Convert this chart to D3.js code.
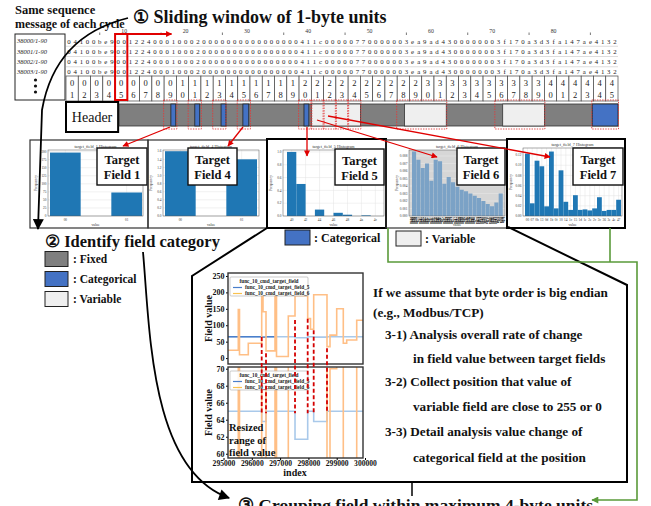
<!DOCTYPE html>
<html>
<head>
<meta charset="utf-8">
<script src="https://cdn.jsdelivr.net/npm/d3@7"></script>
<style>
  body { margin: 0; background: #fff; }
  svg { display: block; }
  text { font-family: "Liberation Serif", "Times New Roman", serif; }
</style>
</head>
<body>
<svg id="fig" width="651" height="506"></svg>
<script>
// ---- data ----
const rowLabels = ["38000/1-90", "38001/1-90", "38002/1-90", "38003/1-90"];
const hexSeq = "04100be900122400010002" + "0000000000000000" + "411c" + "00000" + "77" +
  "000000" + "3ea9ad43" + "0000000" + "3f170a3d3fa147ae4132";
const rulerMarks = [10, 20, 30, 40, 50, 60, 70, 80];
const rulerDots = [5, 15, 25, 35, 45, 55, 65, 75, 85];
const byteCount = 45;
const windowByte = 5;

// field map along the byte axis (byte units)
const headerBytes = [0, 4.25];
const catBlocks = [[8.55, 8.95], [10.5, 10.9], [12.64, 13.04], [14.42, 14.9], [19.4, 19.8], [42.9, 45]];
const varBlocks = [[20, 24], [27.6, 31], [35.6, 39]];
const candidateBoxes = [[8, 9], [10, 11], [12, 13], [14, 15], [19, 20], [20, 21], [21, 22], [22, 23], [23, 24], [27, 31], [35, 39], [42.9, 45]];

// histograms
const hist1 = [197, 0, 73];
const hist4 = [1.6, 0, 1.4];
const hist5 = [1.0, 0.5, 0, 0.1, 0, 0.05, 0.02, 0, 0.01, 0];
const hist6 = [0.0086, 0.0075, 0.0064, 0.0070, 0.0047, 0.0075, 0.0073, 0.0043, 0.0052, 0.0045, 0.0039,
  0.0035, 0.0033, 0.0030, 0.0027, 0.0024, 0.0020, 0.0016, 0.0013, 0.0018, 0.0030];
const hist7 = [0.123, 0.025, 0.109, 0.098, 0.019, 0.127, 0.015, 0.090, 0.028, 0.012, 0.041,
  0.012, 0.013, 0.011, 0.015, 0.037, 0.010, 0.012, 0.012, 0.032];
const hist1Ticks = ["00", "01"];
const hist4Ticks = ["00", "01"];
const hist5Ticks = ["40", "42", "44", "46", "48", "4a", "4c"];
const hist6Ticks = d3.range(0, 256, 6).map(v => v.toString(16).padStart(2, "0") + "9a");
const hist7Ticks = ["00", "07", "0b", "13", "0d", "1b", "0f", "10", "14", "1c", "15", "1d", "1e", "2e", "2c", "3c", "36", "3e", "4e", "47"];

// line charts (index, field value) - step series
const idx6 = [295159, 295523, 295565, 295876, 296350, 296396, 296502, 296820, 296873, 297290, 297527,
  297975, 298074, 298187, 298657, 298763, 299000, 299233, 299353, 299707, 299929];
const val6 = [24, 148, 10, 45, 189, 141, 22, 190, 5, 128, 190, 120, 88, 193, 35, 70, 150, 45, 55, 115, 115];
const idx5 = [295159, 296350, 296502, 297527, 297975, 298187, 298657, 299929];
const val5 = [65, 63.8, 65, 61.7, 65, 63.8, 65, 65];
const markIdx = [296350, 296502, 297527, 297975, 298187, 298657];
const markTop = [64, 15, 116, 120, 85, 30];
const idxTicks = [295000, 296000, 297000, 298000, 299000, 300000];
const upperTicks = [0, 50, 100, 150, 200, 250];
const lowerTicks = [60, 62, 64, 66, 68, 70];

const stepsText = [
  ["If we assume that byte order is big endian", 0],
  ["(e.g., Modbus/TCP)", 0],
  ["3-1) Analysis overall rate of change", 1],
  ["in field value between target fields", 2],
  ["3-2) Collect position that value of", 1],
  ["variable field are close to 255 or 0", 2],
  ["3-3) Detail analysis value change of", 1],
  ["categorical field at the position", 2]
];

// ---- drawing ----
const svg = d3.select("#fig");
const GRAY = "#7f7f7f", BLUE = "#4472c4", LIGHT = "#efefef", RED = "#e00000", GREEN = "#5a9a3a";

const defs = svg.append("defs");
function marker(id, color, w, h) {
  defs.append("marker").attr("id", id).attr("viewBox", "0 0 10 10")
    .attr("refX", 9).attr("refY", 5).attr("markerUnits", "userSpaceOnUse")
    .attr("markerWidth", w).attr("markerHeight", h).attr("orient", "auto")
    .append("path").attr("d", "M0,0L10,5L0,10z").attr("fill", color);
}
marker("arBlack", "#000", 12, 11);
marker("arRed", RED, 7, 6);
marker("arGreen", GREEN, 8, 7);

function txt(x, y, s, size, opt = {}) {
  return svg.append("text").attr("x", x).attr("y", y).text(s)
    .attr("font-size", size).attr("font-weight", opt.weight || "bold")
    .attr("text-anchor", opt.anchor || "start")
    .attr("fill", opt.fill || "#111");
}

// titles
txt(15, 14, "Same sequence", 12.5);
txt(15, 28, "message of each cycle", 12);
txt(133, 23, "\u2460 Sliding window of 1-byte units", 18);

// hex rows
const xByte = d3.scaleLinear().domain([0, byteCount]).range([66, 618]);
const charX = i => xByte((i + 0.5) / 2);
const yRow = d3.scaleBand().domain(rowLabels).range([36, 77]);

svg.append("rect").attr("x", 15).attr("y", 34).attr("width", 50).attr("height", 66)
  .attr("fill", "#fff").attr("stroke", "#222").attr("stroke-width", 1);

rowLabels.forEach(r => {
  const cy = yRow(r) + yRow.bandwidth() / 2;
  svg.append("text").attr("x", 17).attr("y", cy + 2.3).text(r)
    .attr("font-family", "Liberation Sans, Arial, sans-serif").attr("font-style", "italic")
    .attr("font-size", 6.5).attr("fill", "#222");
  svg.append("line").attr("x1", 66).attr("x2", 618)
    .attr("y1", yRow(r) + yRow.bandwidth()).attr("y2", yRow(r) + yRow.bandwidth())
    .attr("stroke", "#cfcfcf").attr("stroke-width", 0.7);
  svg.append("g").selectAll("text").data(hexSeq.split("")).join("text")
    .attr("x", (d, i) => charX(i)).attr("y", cy + 2.4)
    .attr("text-anchor", "middle").attr("font-family", "DejaVu Sans, sans-serif")
    .attr("font-size", 6.8).attr("fill", "#222").text(d => d);
});
// vertical dots
[80, 86, 92].forEach(y => svg.append("circle").attr("cx", 35.5).attr("cy", y).attr("r", 1.6).attr("fill", "#111"));

// ruler
svg.append("g").selectAll("text").data(rulerMarks).join("text")
  .attr("x", d => charX(d - 1)).attr("y", 32.5).attr("text-anchor", "middle")
  .attr("font-family", "Liberation Sans, Arial, sans-serif").attr("font-size", 5.8).attr("fill", "#333")
  .text(d => d);
svg.append("g").selectAll("line").data(rulerDots).join("line")
  .attr("x1", d => charX(d)).attr("x2", d => charX(d)).attr("y1", 32.5).attr("y2", 35)
  .attr("stroke", "#555").attr("stroke-width", 0.8);

// byte index grid
const bytes = d3.range(1, byteCount + 1);
const cw = xByte(1) - xByte(0);
const cells = svg.append("g").selectAll("g").data(bytes).join("g")
  .attr("transform", d => `translate(${xByte(d - 1)},76)`);
cells.append("rect").attr("width", cw).attr("height", 25)
  .attr("fill", "#fff").attr("stroke", "#444").attr("stroke-width", 0.7);
cells.append("text").attr("x", cw / 2).attr("y", 10).attr("text-anchor", "middle")
  .attr("font-size", 8.5).attr("fill", "#222").text(d => Math.floor(d / 10));
cells.append("text").attr("x", cw / 2).attr("y", 21.5).attr("text-anchor", "middle")
  .attr("font-size", 8.5).attr("fill", "#222").text(d => d % 10);

// sliding window
svg.append("rect").attr("x", xByte(windowByte - 1)).attr("y", 34)
  .attr("width", cw).attr("height", 66).attr("fill", "none")
  .attr("stroke", RED).attr("stroke-width", 2);
svg.append("line").attr("x1", xByte(windowByte)).attr("y1", 34)
  .attr("x2", xByte(windowByte + 3.6)).attr("y2", 34)
  .attr("stroke", RED).attr("stroke-width", 2).attr("marker-end", "url(#arRed)");

// field bar
svg.append("rect").attr("x", xByte(headerBytes[0])).attr("y", 102)
  .attr("width", xByte(headerBytes[1]) - xByte(headerBytes[0])).attr("height", 30)
  .attr("fill", "#fff").attr("stroke", "#000").attr("stroke-width", 2);
svg.append("text").attr("x", (xByte(headerBytes[0]) + xByte(headerBytes[1])) / 2).attr("y", 121.5)
  .attr("text-anchor", "middle").attr("font-size", 14).attr("fill", "#111").text("Header");
svg.append("rect").attr("x", xByte(headerBytes[1]) + 1).attr("y", 104)
  .attr("width", xByte(byteCount) - xByte(headerBytes[1]) - 1).attr("height", 22)
  .attr("fill", GRAY).attr("stroke", "#333").attr("stroke-width", 0.8);
svg.append("g").selectAll("rect").data(varBlocks).join("rect")
  .attr("x", d => xByte(d[0])).attr("y", 104).attr("width", d => xByte(d[1]) - xByte(d[0])).attr("height", 22)
  .attr("fill", LIGHT).attr("stroke", "#333").attr("stroke-width", 0.8);
svg.append("g").selectAll("rect").data(catBlocks).join("rect")
  .attr("x", d => xByte(d[0])).attr("y", 104).attr("width", d => xByte(d[1]) - xByte(d[0])).attr("height", 22)
  .attr("fill", BLUE).attr("stroke", "#222").attr("stroke-width", 0.8);
svg.append("g").selectAll("rect").data(candidateBoxes).join("rect")
  .attr("x", d => xByte(d[0]) - 0.5).attr("y", 100).attr("width", d => xByte(d[1]) - xByte(d[0]) + 1).attr("height", 29)
  .attr("fill", "none").attr("stroke", "#e23a3a").attr("stroke-width", 0.9).attr("stroke-dasharray", "1.4,1.2");

// histogram panels
const panels = [
  { name: "target_field_1", vals: hist1, ticks: hist1Ticks, box: [30, 140, 118, 88], plot: [48, 150, 95, 66], bars: [50, 142], ymax: 205, yt: d3.range(0, 201, 25), fmt: d => d, field: "Field 1", tbox: [97, 148, 50, 37] },
  { name: "target_field_4", vals: hist4, ticks: hist4Ticks, box: [148, 140, 119, 88], plot: [163, 150, 96, 66], bars: [165, 257], ymax: 1.63, yt: d3.range(0, 1.61, 0.2), fmt: d3.format(".1f"), field: "Field 4", tbox: [188, 148, 49, 37] },
  { name: "target_field_5", vals: hist5, ticks: hist5Ticks, box: [267, 139, 119, 89], plot: [283, 150, 101, 66], bars: [287, 380], ymax: 1.03, yt: d3.range(0, 1.01, 0.2), fmt: d3.format(".1f"), field: "Field 5", tbox: [335, 149, 49, 36], thick: true },
  { name: "target_field_6", vals: hist6, ticks: hist6Ticks, box: [386, 140, 121, 88], plot: [409, 150, 96, 66], bars: [412, 503], ymax: 0.0088, yt: d3.range(0, 0.00801, 0.001), fmt: d3.format(".3f"), field: "Field 6", tbox: [457, 148, 48, 37], bg: "#d6d6d6", color: "#7ba2c6", dense: true },
  { name: "target_field_7", vals: hist7, ticks: hist7Ticks, box: [507, 139, 118, 89], plot: [523, 148, 99, 68], bars: [525, 621], ymax: 0.134, yt: d3.range(0, 0.121, 0.02), fmt: d3.format(".2f"), field: "Field 7", tbox: [573, 148, 50, 37], thick: true }
];

function histPanel(p) {
  const g = svg.append("g");
  const [px, py, pw, ph] = p.plot;
  g.append("rect").attr("x", p.box[0]).attr("y", p.box[1]).attr("width", p.box[2]).attr("height", p.box[3])
    .attr("fill", "#fff");
  const y = d3.scaleLinear().domain([0, p.ymax]).range([py + ph, py]);
  const x = d3.scaleBand().domain(d3.range(p.vals.length)).range(p.bars);
  g.append("rect").attr("x", px).attr("y", py).attr("width", pw).attr("height", ph)
    .attr("fill", p.bg || "#fff");
  g.selectAll(".gy").data(p.yt).join("line")
    .attr("x1", px).attr("x2", px + pw).attr("y1", d => y(d)).attr("y2", d => y(d))
    .attr("stroke", p.bg ? "#e8e8e8" : "#e2e2e2").attr("stroke-width", 0.5);
  const tickIdx = p.ticks.map((t, i) => i * (p.vals.length - 1) / (p.ticks.length - 1));
  const tx = i => p.bars[0] + (i + 0.5) * x.step();
  if (!p.dense) {
    g.selectAll(".gx").data(tickIdx).join("line")
      .attr("x1", tx).attr("x2", tx).attr("y1", py).attr("y2", py + ph)
      .attr("stroke", "#e2e2e2").attr("stroke-width", 0.5);
  }
  g.selectAll(".bar").data(p.vals).join("rect")
    .attr("x", (d, i) => x(i)).attr("width", x.bandwidth() - (p.dense ? 0.25 : 0))
    .attr("y", d => y(d)).attr("height", d => y(0) - y(d))
    .attr("fill", p.color || "#1f77b4");
  g.append("rect").attr("x", px).attr("y", py).attr("width", pw).attr("height", ph)
    .attr("fill", "none").attr("stroke", "#555").attr("stroke-width", 0.5);
  g.selectAll(".yl").data(p.yt).join("text")
    .attr("x", px - 1.5).attr("y", d => y(d) + 1.2).attr("text-anchor", "end")
    .attr("font-family", "DejaVu Sans, sans-serif").attr("font-size", 3.4).attr("font-weight", "normal")
    .attr("fill", "#333").text(p.fmt);
  if (p.dense) {
    g.selectAll(".xl").data(p.ticks).join("text")
      .attr("transform", (d, i) => `translate(${px + 2 + i * (pw - 4) / (p.ticks.length - 1)},${py + ph + 1}) rotate(90)`)
      .attr("font-family", "DejaVu Sans, sans-serif").attr("font-size", 3.4).attr("font-weight", "bold")
      .attr("dy", 1.2).attr("fill", "#000").text(d => d);
  } else {
    g.selectAll(".xl").data(p.ticks).join("text")
      .attr("x", (d, i) => tx(tickIdx[i])).attr("y", py + ph + 4.5).attr("text-anchor", "middle")
      .attr("font-family", "DejaVu Sans, sans-serif").attr("font-size", 3.4).attr("fill", "#333").text(d => d);
  }
  g.append("text").attr("x", px + pw / 2).attr("y", py - 2.5).attr("text-anchor", "middle")
    .attr("font-family", "DejaVu Sans, sans-serif").attr("font-size", 4.2).attr("fill", "#333")
    .text(p.name + " Histogram");
  g.append("text").attr("x", px + pw / 2).attr("y", p.box[1] + p.box[3] - 2.5).attr("text-anchor", "middle")
    .attr("font-family", "DejaVu Sans, sans-serif").attr("font-size", 3.8).attr("fill", "#333").text("value");
  g.append("text").attr("transform", `translate(${px - 11},${py + ph / 2}) rotate(-90)`).attr("text-anchor", "middle")
    .attr("font-family", "DejaVu Sans, sans-serif").attr("font-size", 3.8).attr("fill", "#333").text("Frequency");
  // target label
  const [bx, by, bw, bh] = p.tbox;
  g.append("rect").attr("x", bx).attr("y", by).attr("width", bw).attr("height", bh)
    .attr("fill", "#fff").attr("stroke", "#111").attr("stroke-width", 1.4);
  g.append("text").attr("x", bx + bw / 2).attr("y", by + 16).attr("text-anchor", "middle")
    .attr("font-size", 12.5).attr("font-weight", "bold").attr("fill", "#111").text("Target");
  g.append("text").attr("x", bx + bw / 2).attr("y", by + 31).attr("text-anchor", "middle")
    .attr("font-size", 12.5).attr("font-weight", "bold").attr("fill", "#111").text(p.field);
}
panels.forEach(histPanel);
panels.forEach(p => {
  svg.append("rect").attr("x", p.box[0]).attr("y", p.box[1]).attr("width", p.box[2]).attr("height", p.box[3])
    .attr("fill", "none").attr("stroke", p.thick ? "#000" : "#333").attr("stroke-width", p.thick ? 2 : 1.2);
});

// red arrows from fields to histograms
const links = [
  [[170, 127], [123, 146]],
  [[243, 127], [228, 146]],
  [[307, 127], [307, 156]],
  [[317, 120], [437, 157]],
  [[328, 116], [550, 157]]
];
links.forEach(([a, b]) => svg.append("line").attr("x1", a[0]).attr("y1", a[1]).attr("x2", b[0]).attr("y2", b[1])
  .attr("stroke", RED).attr("stroke-width", 1.3).attr("marker-end", "url(#arRed)"));

// legends below panels
svg.append("rect").attr("x", 285).attr("y", 230).attr("width", 25).attr("height", 15)
  .attr("fill", BLUE).attr("stroke", "#222").attr("stroke-width", 1);
txt(314, 241.5, ": Categorical", 12);
svg.append("rect").attr("x", 396).attr("y", 231).attr("width", 25).attr("height", 15)
  .attr("fill", LIGHT).attr("stroke", "#222").attr("stroke-width", 1);
txt(425, 242.5, ": Variable", 12);

// step 2 legend
txt(45, 247, "\u2461 Identify field category", 16.5);
[[GRAY, ": Fixed"], [BLUE, ": Categorical"], [LIGHT, ": Variable"]].forEach(([c, s], i) => {
  svg.append("rect").attr("x", 45).attr("y", 251.5 + i * 20).attr("width", 23).attr("height", 15)
    .attr("fill", c).attr("stroke", "#222").attr("stroke-width", 1);
  txt(73, 263 + i * 20, s, 11.5);
});

// callout frame
svg.append("path").attr("d", "M267,228 L192,276 L192,482 L627,482 L627,285 L508,227")
  .attr("fill", "none").attr("stroke", "#000").attr("stroke-width", 2);
svg.append("line").attr("x1", 412).attr("x2", 412).attr("y1", 482).attr("y2", 496)
  .attr("stroke", "#000").attr("stroke-width", 1.5);

// line charts
const xIdx = d3.scaleLinear().domain([295000, 300000]).range([223.5, 365]);
const upper = { plot: [228, 273, 135, 91], y: d3.scaleLinear().domain([-18, 259]).range([364, 273]), ticks: upperTicks, id: "cu" };
const lower = { plot: [228, 367, 135, 91], y: d3.scaleLinear().domain([59.5, 70.2]).range([458, 367]), ticks: lowerTicks, id: "cl" };
const s6 = idx6.map((d, i) => [d, val6[i]]);
const s5 = idx5.map((d, i) => [d, val5[i]]);

[upper, lower].forEach(c => {
  const [px, py, pw, ph] = c.plot;
  defs.append("clipPath").attr("id", c.id).append("rect").attr("x", px).attr("y", py).attr("width", pw).attr("height", ph);
  svg.append("rect").attr("x", px).attr("y", py).attr("width", pw).attr("height", ph).attr("fill", "#fff");
  const line = d3.line().x(d => xIdx(d[0])).y(d => c.y(d[1])).curve(d3.curveStepAfter);
  const g = svg.append("g").attr("clip-path", `url(#${c.id})`);
  g.append("path").attr("d", line(s5)).attr("fill", "none").attr("stroke", "#a9c9ea").attr("stroke-width", 1.6);
  if (c === upper) {
    g.append("path").attr("d", line(s5.filter(d => d[0] < 296850).concat([[296850, 65]])))
      .attr("fill", "none").attr("stroke", "#4a7fcb").attr("stroke-width", 1.4);
  }
  g.append("path").attr("d", line(s6)).attr("fill", "none").attr("stroke", "#ffbf86").attr("stroke-width", 1.6);
  svg.append("g").attr("transform", `translate(${px},0)`)
    .call(d3.axisLeft(c.y).tickValues(c.ticks).tickSize(2).tickPadding(1.5))
    .call(a => a.select(".domain").remove())
    .call(a => a.selectAll("text").attr("font-family", "Liberation Serif, serif").attr("font-weight", "bold").attr("font-size", 8).attr("fill", "#111"));
  svg.append("rect").attr("x", px).attr("y", py).attr("width", pw).attr("height", ph)
    .attr("fill", "none").attr("stroke", "#333").attr("stroke-width", 1.4);
  svg.append("text").attr("transform", `translate(${px - 16},${py + ph / 2}) rotate(-90)`)
    .attr("text-anchor", "middle").attr("font-size", 10).attr("font-weight", "bold").attr("fill", "#111").text("Field value");
  // legend
  const lg = svg.append("g").attr("transform", `translate(230,${py + 4})`);
  lg.append("rect").attr("width", 78).attr("height", 19).attr("fill", "#fff").attr("fill-opacity", 0.85)
    .attr("stroke", "#aaa").attr("stroke-width", 0.6).attr("rx", 1);
  lg.append("text").attr("x", 39).attr("y", 5.8).attr("text-anchor", "middle").attr("font-size", 5.3)
    .attr("font-weight", "bold").attr("fill", "#222").text("func_10_cmd_target_field");
  [["func_10_cmd_target_field_5", "#4a7fcb"], ["func_10_cmd_target_field_6", "#f9c24f"]].forEach(([s, col], i) => {
    lg.append("line").attr("x1", 3).attr("x2", 12).attr("y1", 10.5 + i * 6).attr("y2", 10.5 + i * 6)
      .attr("stroke", col).attr("stroke-width", 1.2);
    lg.append("text").attr("x", 15).attr("y", 12.3 + i * 6).attr("font-size", 5.3).attr("font-weight", "bold")
      .attr("fill", "#222").text(s);
  });
});
svg.append("g").attr("transform", `translate(0,${lower.plot[1] + lower.plot[3]})`)
  .call(d3.axisBottom(xIdx).tickValues(idxTicks).tickFormat(d3.format("d")).tickSize(2).tickPadding(1))
  .call(a => a.select(".domain").remove())
  .call(a => a.selectAll("text").attr("font-family", "Liberation Serif, serif").attr("font-weight", "bold").attr("font-size", 7.6).attr("fill", "#111"));
svg.append("text").attr("x", 295).attr("y", 476).attr("text-anchor", "middle")
  .attr("font-size", 10).attr("font-weight", "bold").attr("fill", "#111").text("index");

// red dashed markers spanning both plots
svg.append("g").selectAll("line").data(markIdx).join("line")
  .attr("x1", d => xIdx(d)).attr("x2", d => xIdx(d))
  .attr("y1", (d, i) => upper.y(markTop[i])).attr("y2", lower.y(64.75))
  .attr("stroke", "#d40000").attr("stroke-width", 1.8).attr("stroke-dasharray", "4,2.5");

["Resized", "range of", "field value"].forEach((s, i) => txt(229, 431 + i * 12.5, s, 10.5));

// step 3 text
stepsText.forEach(([s, lvl], i) => {
  const yy = [297, 317, 339, 363, 386, 411, 436, 462][i];
  txt([373, 385, 413][lvl], yy, s, 13.2);
});

// bottom step title
txt(238, 511, "\u2462 Grouping field within maximum 4-byte units", 17.5);

// connectors
svg.append("path").attr("d", "M128,18 Q55,36 42,110 L38,229")
  .attr("fill", "none").attr("stroke", "#000").attr("stroke-width", 1.8).attr("marker-end", "url(#arBlack)");
svg.append("path").attr("d", "M143,252 C150,330 150,470 229,498")
  .attr("fill", "none").attr("stroke", "#000").attr("stroke-width", 1.8).attr("marker-end", "url(#arBlack)");
svg.append("path").attr("d", "M388,228 V262 H637 V500 H592")
  .attr("fill", "none").attr("stroke", GREEN).attr("stroke-width", 1.6).attr("marker-end", "url(#arGreen)");
svg.append("path").attr("d", "M610,228 V262")
  .attr("fill", "none").attr("stroke", GREEN).attr("stroke-width", 1.6);
</script>
</body>
</html>
